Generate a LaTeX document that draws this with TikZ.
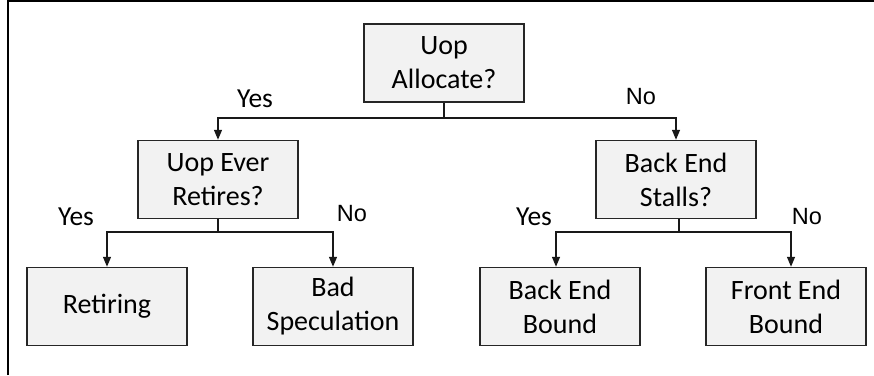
\documentclass[tikz,border=0pt]{standalone}
\usepackage{fontspec}
\setmainfont{Carlito}
\newfontfamily\arialfont{Liberation Sans}
\usetikzlibrary{arrows.meta}
\begin{document}
\begin{tikzpicture}[x=1pt,y=-1pt,
  decision/.style={draw=black!85, line width=1.5pt, fill=black!5,
    minimum width=160pt, minimum height=78pt, inner sep=0pt,
    align=center, font=\fontsize{28}{34}\selectfont},
  link/.style={line width=1.4pt, draw=black!90},
  arrowlink/.style={link, -{Triangle[length=10pt,width=8pt]}},
  yeslabel/.style={anchor=base, inner sep=0pt, font=\fontsize{27.5}{32}\selectfont},
  nolabel/.style={anchor=base, inner sep=0pt, font=\arialfont\fontsize{23.5}{28}\selectfont}]
  \useasboundingbox (0,0) rectangle (874,375);

  % frame (top and left edges)
  \draw[line width=1.4pt] (8,375) -- (8,1) -- (874,1);

  % decision boxes
  \node[decision] (alloc) at (444,63) {Uop\\Allocate?};
  \node[decision] (retq)  at (218,179.5) {Uop Ever\\Retires?};
  \node[decision] (stall) at (676,179.5) {Back End\\Stalls?};

  % outcome boxes
  \node[decision] (ret) at (107,306.5) {Retiring};
  \node[decision] (bad) at (333,306.5) {Bad\\Speculation};
  \node[decision] (beb) at (560,306.5) {Back End\\Bound};
  \node[decision] (feb) at (786,306.5) {Front End\\Bound};

  % branch junctions
  \coordinate (j1) at (444,118);
  \coordinate (j2) at (218,232);
  \coordinate (j3) at (679,232);

  \draw[link] (alloc.south) -- (j1);
  \draw[arrowlink] (j1) -| (retq.north);
  \draw[arrowlink] (j1) -| (stall.north);

  \draw[link] (retq.south) -- (j2);
  \draw[arrowlink] (j2) -| (ret.north);
  \draw[arrowlink] (j2) -| (bad.north);

  \draw[link] ([xshift=3pt]stall.south) -- (j3);
  \draw[arrowlink] (j3) -| ([xshift=-4pt]beb.north);
  \draw[arrowlink] (j3) -| ([xshift=5pt]feb.north);

  % branch labels
  \node[yeslabel] (y1) at (255,107) {Yes};
  \node[nolabel]  (n1) at (641,104) {No};
  \node[yeslabel] (y2) at (76,225) {Yes};
  \node[nolabel]  (n2) at (352,221) {No};
  \node[yeslabel] (y3) at (534,225) {Yes};
  \node[nolabel]  (n3) at (807,224) {No};
\end{tikzpicture}
\end{document}
